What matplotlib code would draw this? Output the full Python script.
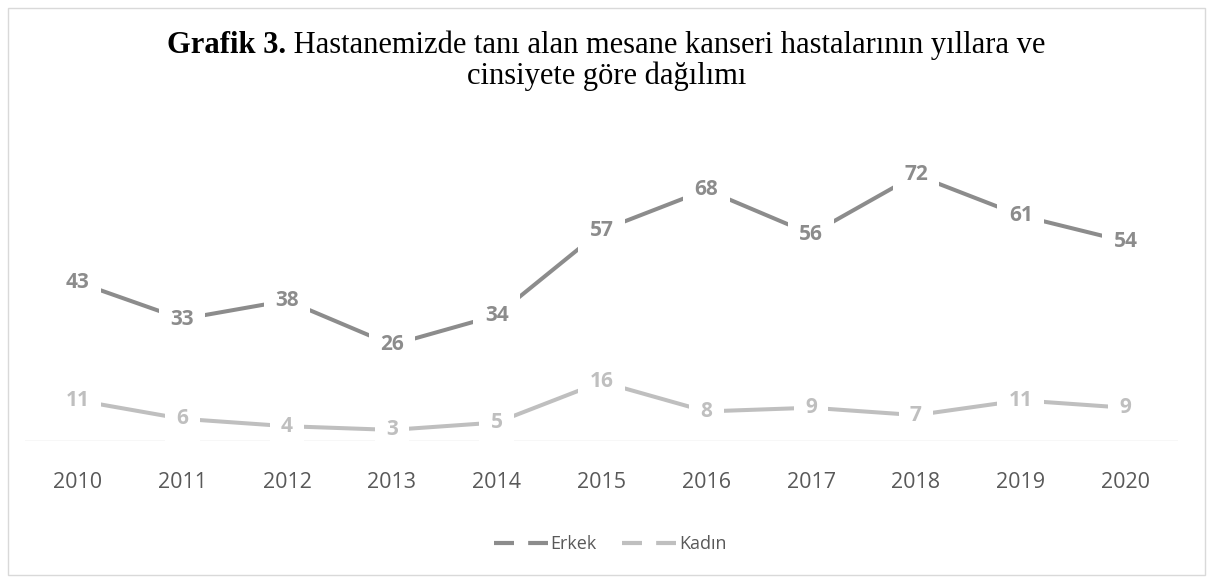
import matplotlib.pyplot as plt
from matplotlib.lines import Line2D
from matplotlib.patches import Rectangle

years = ["2010", "2011", "2012", "2013", "2014", "2015", "2016", "2017", "2018", "2019", "2020"]
erkek = [43, 33, 38, 26, 34, 57, 68, 56, 72, 61, 54]
kadin = [11, 6, 4, 3, 5, 16, 8, 9, 7, 11, 9]

c_erkek = "#8c8c8c"
c_kadin = "#bfbfbf"

fig = plt.figure(figsize=(12.13, 5.83), dpi=100)
fig.patches.append(Rectangle((0.007, 0.014), 0.986, 0.972, transform=fig.transFigure,
                             fill=False, edgecolor="#d9d9d9", linewidth=1))
ax = fig.add_axes([0.0206, 0.2436, 0.9505, 0.507])

x = list(range(len(years)))
ax.plot(x, erkek, color=c_erkek, linewidth=2.9, solid_capstyle="butt", zorder=2)
ax.plot(x, kadin, color=c_kadin, linewidth=2.9, solid_capstyle="butt", zorder=2)
ax.axhline(0, color="#d9d9d9", linewidth=1, zorder=1)

for series, col in [(erkek, c_erkek), (kadin, c_kadin)]:
    for xi, v in zip(x, series):
        ax.text(xi, v, str(v), ha="center", va="center", fontsize=15, fontweight="bold",
                color=col, family="Open Sans", zorder=3,
                bbox=dict(boxstyle="square,pad=0.55", facecolor="white", edgecolor="none"))

ax.set_xlim(-0.5, len(years) - 0.5)
ax.set_ylim(0, 80)
ax.set_xticks(x)
ax.set_xticklabels(years, fontsize=15.5, color="#595959", family="Open Sans")
ax.tick_params(axis="x", length=0, pad=22)
ax.set_yticks([])
for s in ax.spines.values():
    s.set_visible(False)

# title: bold part followed by regular part, centred together
tsize = 22
fig.canvas.draw()
r = fig.canvas.get_renderer()
tb = fig.text(0, 0.922, "Grafik 3.", fontsize=tsize, fontweight="bold",
              family="Liberation Serif", ha="left", va="center", color="black")
tr = fig.text(0, 0.922, " Hastanemizde tanı alan mesane kanseri hastalarının yıllara ve",
              fontsize=tsize, family="Liberation Serif", ha="left", va="center", color="black")
wb = tb.get_window_extent(r).width / fig.bbox.width
wr = tr.get_window_extent(r).width / fig.bbox.width
x0 = 0.5 - (wb + wr) / 2
tb.set_x(x0)
tr.set_x(x0 + wb)
fig.text(0.5, 0.869, "cinsiyete göre dağılımı", fontsize=tsize, family="Liberation Serif",
         ha="center", va="center", color="black")

handles = [Line2D([0], [0], color=c_erkek, linewidth=3, linestyle=(0, (4.8, 3.4))),
           Line2D([0], [0], color=c_kadin, linewidth=3, linestyle=(0, (4.8, 3.4)))]
fig.legend(handles, ["Erkek", "Kadın"], loc="center", bbox_to_anchor=(0.503, 0.067),
           ncol=2, frameon=False, handlelength=3.0, handletextpad=0.15, columnspacing=1.4,
           prop={"family": "Open Sans", "size": 13}, labelcolor="#595959")

fig.savefig("out.png", dpi=100)
